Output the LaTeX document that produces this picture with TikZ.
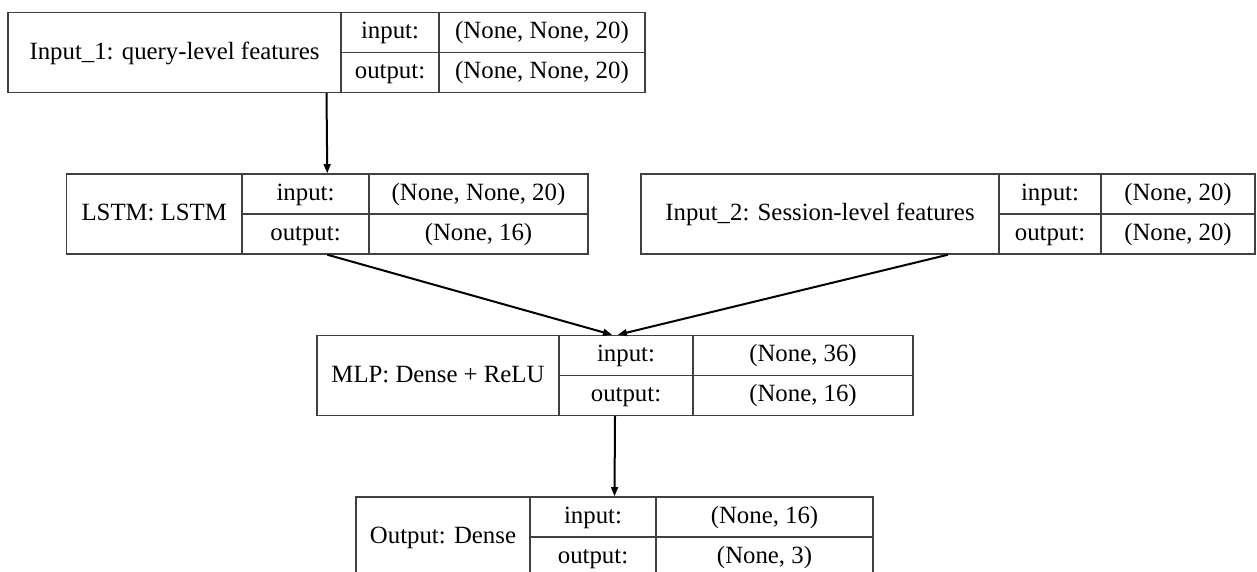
\documentclass[tikz,border=0pt]{standalone}
\usepackage{fontspec}
\setmainfont{Liberation Serif}
\usetikzlibrary{arrows.meta,fit}

% One layer record: name, left x, first divider, second divider, right x, top y,
% layer label, input shape, output shape (coordinates in pixel units, y downward)
\newcommand\layerbox[9]{%
  \node[frame, fit={(#2,#6) (#5,#6+80)}] (#1) {};
  \draw[rule] (#3,#6) -- (#3,#6+80);
  \draw[rule] (#4,#6) -- (#4,#6+80);
  \draw[rule] (#3,#6+40) -- (#5,#6+40);
  \node[txt] (#1-label) at ({(#2+#3)/2},#6+41) {#7};
  \node[txt] (#1-ik) at ({(#3+#4)/2},#6+20.5) {input:};
  \node[txt] (#1-iv) at ({(#4+#5)/2},#6+20.5) {#8};
  \node[txt] (#1-ok) at ({(#3+#4)/2},#6+60.5) {output:};
  \node[txt] (#1-ov) at ({(#4+#5)/2},#6+60.5) {#9};
}

\begin{document}
\begin{tikzpicture}[x=0.5pt,y=-0.5pt,
  frame/.style={draw=black!75, line width=0.7pt, inner sep=0pt, rectangle},
  rule/.style={draw=black!75, line width=0.7pt},
  txt/.style={font=\fontsize{12.4}{14}\selectfont, inner sep=0pt,
              text height=1.65ex, text depth=0.45ex, anchor=center},
  arr/.style={draw=black, line width=1pt,
              -{Triangle[length=4.6pt,width=3.4pt]}}]
\useasboundingbox (0,0) rectangle (1257,572);
\clip (0,0) rectangle (1257,572);
\fill[white] (0,0) rectangle (1257,572);

\layerbox{inA}{8}{341}{439}{645}{12.5}{Input\_1: query-level features}{(None, None, 20)}{(None, None, 20)}
\layerbox{lstm}{66.5}{242}{369}{588}{174}{LSTM: LSTM}{(None, None, 20)}{(None, 16)}
\layerbox{inB}{641}{999}{1101}{1255}{174}{Input\_2: Session-level features}{(None, 20)}{(None, 20)}
\layerbox{mlp}{317}{559}{693}{913}{335.5}{MLP: Dense + ReLU}{(None, 36)}{(None, 16)}
\layerbox{out}{356}{530}{656}{873}{497}{Output: Dense}{(None, 16)}{(None, 3)}

\draw[arr] (inA.south) -- (lstm.north);
\draw[arr] (lstm.south) -- ([xshift=-1.4pt]mlp.north);
\draw[arr] (inB.south) -- ([xshift=1.4pt]mlp.north);
\draw[arr] (mlp.south) -- (out.north);
\end{tikzpicture}
\end{document}
